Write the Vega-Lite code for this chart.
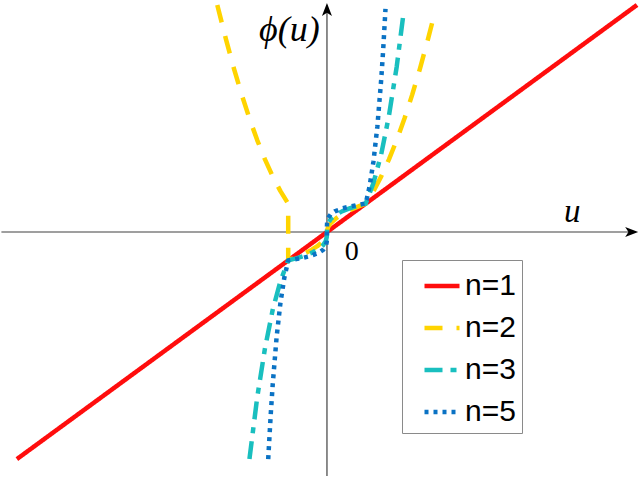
{
  "$schema": "https://vega.github.io/schema/vega-lite/v6.json",
  "width": 640,
  "height": 477,
  "autosize": {"type": "fit", "contains": "padding"},
  "padding": 0,
  "background": "white",
  "config": {"view": {"stroke": null}},
  "layer": [
    {
      "data": {"values": [{}]},
      "mark": {"type": "rule", "color": "#404040", "strokeWidth": 1.2},
      "encoding": {
        "x": {"datum": -8.4, "type": "quantitative", "scale": {"domain": [-8.333, 8.077], "nice": false, "zero": false}, "axis": null},
        "x2": {"datum": 7.9},
        "y": {"datum": 0, "type": "quantitative", "scale": {"domain": [-8.561, 8.175], "nice": false, "zero": false}, "axis": null}
      }
    },
    {
      "data": {"values": [{}]},
      "mark": {"type": "rule", "color": "#404040", "strokeWidth": 1.2},
      "encoding": {
        "x": {"datum": 0, "type": "quantitative", "scale": {"domain": [-8.333, 8.077], "nice": false, "zero": false}, "axis": null},
        "y": {"datum": -8.6, "type": "quantitative", "scale": {"domain": [-8.561, 8.175], "nice": false, "zero": false}, "axis": null},
        "y2": {"datum": 7.95}
      }
    },
    {
      "data": {"values": [
        {"n": "n=1", "i": 0, "u": -8, "phi": -8},
        {"n": "n=1", "i": 1, "u": 8, "phi": 8},

        {"n": "n=2", "i": 0, "u": -2.83, "phi": 8.0},
        {"n": "n=2", "i": 1, "u": -2.6, "phi": 6.76},
        {"n": "n=2", "i": 2, "u": -2.4, "phi": 5.76},
        {"n": "n=2", "i": 3, "u": -2.2, "phi": 4.84},
        {"n": "n=2", "i": 4, "u": -2.0, "phi": 4.0},
        {"n": "n=2", "i": 5, "u": -1.8, "phi": 3.24},
        {"n": "n=2", "i": 6, "u": -1.6, "phi": 2.56},
        {"n": "n=2", "i": 7, "u": -1.4, "phi": 1.96},
        {"n": "n=2", "i": 8, "u": -1.2, "phi": 1.44},
        {"n": "n=2", "i": 9, "u": -1.0, "phi": 1.0},
        {"n": "n=2", "i": 10, "u": -1.0, "phi": -1.0},
        {"n": "n=2", "i": 11, "u": -0.8, "phi": -0.894},
        {"n": "n=2", "i": 12, "u": -0.6, "phi": -0.775},
        {"n": "n=2", "i": 13, "u": -0.4, "phi": -0.632},
        {"n": "n=2", "i": 14, "u": -0.25, "phi": -0.5},
        {"n": "n=2", "i": 15, "u": -0.1, "phi": -0.316},
        {"n": "n=2", "i": 16, "u": -0.03, "phi": -0.173},
        {"n": "n=2", "i": 17, "u": -0.005, "phi": -0.071},
        {"n": "n=2", "i": 18, "u": 0, "phi": 0},
        {"n": "n=2", "i": 19, "u": 0.005, "phi": 0.071},
        {"n": "n=2", "i": 20, "u": 0.03, "phi": 0.173},
        {"n": "n=2", "i": 21, "u": 0.1, "phi": 0.316},
        {"n": "n=2", "i": 22, "u": 0.25, "phi": 0.5},
        {"n": "n=2", "i": 23, "u": 0.4, "phi": 0.632},
        {"n": "n=2", "i": 24, "u": 0.6, "phi": 0.775},
        {"n": "n=2", "i": 25, "u": 0.8, "phi": 0.894},
        {"n": "n=2", "i": 26, "u": 1.0, "phi": 1.0},
        {"n": "n=2", "i": 27, "u": 1.2, "phi": 1.44},
        {"n": "n=2", "i": 28, "u": 1.4, "phi": 1.96},
        {"n": "n=2", "i": 29, "u": 1.6, "phi": 2.56},
        {"n": "n=2", "i": 30, "u": 1.8, "phi": 3.24},
        {"n": "n=2", "i": 31, "u": 2.0, "phi": 4.0},
        {"n": "n=2", "i": 32, "u": 2.2, "phi": 4.84},
        {"n": "n=2", "i": 33, "u": 2.4, "phi": 5.76},
        {"n": "n=2", "i": 34, "u": 2.6, "phi": 6.76},
        {"n": "n=2", "i": 35, "u": 2.75, "phi": 7.56},

        {"n": "n=3", "i": 0, "u": -2.0, "phi": -8.0},
        {"n": "n=3", "i": 1, "u": -1.8, "phi": -5.83},
        {"n": "n=3", "i": 2, "u": -1.6, "phi": -4.1},
        {"n": "n=3", "i": 3, "u": -1.4, "phi": -2.74},
        {"n": "n=3", "i": 4, "u": -1.2, "phi": -1.73},
        {"n": "n=3", "i": 5, "u": -1.0, "phi": -1.0},
        {"n": "n=3", "i": 6, "u": -0.8, "phi": -0.928},
        {"n": "n=3", "i": 7, "u": -0.6, "phi": -0.843},
        {"n": "n=3", "i": 8, "u": -0.4, "phi": -0.737},
        {"n": "n=3", "i": 9, "u": -0.2, "phi": -0.585},
        {"n": "n=3", "i": 10, "u": -0.1, "phi": -0.464},
        {"n": "n=3", "i": 11, "u": -0.03, "phi": -0.311},
        {"n": "n=3", "i": 12, "u": -0.005, "phi": -0.171},
        {"n": "n=3", "i": 13, "u": 0, "phi": 0},
        {"n": "n=3", "i": 14, "u": 0.005, "phi": 0.171},
        {"n": "n=3", "i": 15, "u": 0.03, "phi": 0.311},
        {"n": "n=3", "i": 16, "u": 0.1, "phi": 0.464},
        {"n": "n=3", "i": 17, "u": 0.2, "phi": 0.585},
        {"n": "n=3", "i": 18, "u": 0.4, "phi": 0.737},
        {"n": "n=3", "i": 19, "u": 0.6, "phi": 0.843},
        {"n": "n=3", "i": 20, "u": 0.8, "phi": 0.928},
        {"n": "n=3", "i": 21, "u": 1.0, "phi": 1.0},
        {"n": "n=3", "i": 22, "u": 1.2, "phi": 1.73},
        {"n": "n=3", "i": 23, "u": 1.4, "phi": 2.74},
        {"n": "n=3", "i": 24, "u": 1.6, "phi": 4.1},
        {"n": "n=3", "i": 25, "u": 1.8, "phi": 5.83},
        {"n": "n=3", "i": 26, "u": 1.97, "phi": 7.65},

        {"n": "n=5", "i": 0, "u": -1.516, "phi": -8.0},
        {"n": "n=5", "i": 1, "u": -1.45, "phi": -6.41},
        {"n": "n=5", "i": 2, "u": -1.4, "phi": -5.38},
        {"n": "n=5", "i": 3, "u": -1.3, "phi": -3.71},
        {"n": "n=5", "i": 4, "u": -1.2, "phi": -2.49},
        {"n": "n=5", "i": 5, "u": -1.1, "phi": -1.61},
        {"n": "n=5", "i": 6, "u": -1.0, "phi": -1.0},
        {"n": "n=5", "i": 7, "u": -0.8, "phi": -0.956},
        {"n": "n=5", "i": 8, "u": -0.6, "phi": -0.903},
        {"n": "n=5", "i": 9, "u": -0.4, "phi": -0.833},
        {"n": "n=5", "i": 10, "u": -0.2, "phi": -0.725},
        {"n": "n=5", "i": 11, "u": -0.1, "phi": -0.631},
        {"n": "n=5", "i": 12, "u": -0.03, "phi": -0.496},
        {"n": "n=5", "i": 13, "u": -0.005, "phi": -0.347},
        {"n": "n=5", "i": 14, "u": -0.0005, "phi": -0.218},
        {"n": "n=5", "i": 15, "u": 0, "phi": 0},
        {"n": "n=5", "i": 16, "u": 0.0005, "phi": 0.218},
        {"n": "n=5", "i": 17, "u": 0.005, "phi": 0.347},
        {"n": "n=5", "i": 18, "u": 0.03, "phi": 0.496},
        {"n": "n=5", "i": 19, "u": 0.1, "phi": 0.631},
        {"n": "n=5", "i": 20, "u": 0.2, "phi": 0.725},
        {"n": "n=5", "i": 21, "u": 0.4, "phi": 0.833},
        {"n": "n=5", "i": 22, "u": 0.6, "phi": 0.903},
        {"n": "n=5", "i": 23, "u": 0.8, "phi": 0.956},
        {"n": "n=5", "i": 24, "u": 1.0, "phi": 1.0},
        {"n": "n=5", "i": 25, "u": 1.1, "phi": 1.61},
        {"n": "n=5", "i": 26, "u": 1.2, "phi": 2.49},
        {"n": "n=5", "i": 27, "u": 1.3, "phi": 3.71},
        {"n": "n=5", "i": 28, "u": 1.4, "phi": 5.38},
        {"n": "n=5", "i": 29, "u": 1.45, "phi": 6.41},
        {"n": "n=5", "i": 30, "u": 1.51, "phi": 7.86}
      ]},
      "mark": {"type": "line", "strokeWidth": 4.5, "strokeCap": "butt", "strokeJoin": "round", "clip": true},
      "encoding": {
        "x": {"field": "u", "type": "quantitative", "scale": {"domain": [-8.333, 8.077], "nice": false, "zero": false}, "axis": null},
        "y": {"field": "phi", "type": "quantitative", "scale": {"domain": [-8.561, 8.175], "nice": false, "zero": false}, "axis": null},
        "order": {"field": "i", "type": "quantitative"},
        "color": {
          "field": "n", "type": "nominal",
          "scale": {"domain": ["n=1", "n=2", "n=3", "n=5"], "range": ["#FF0D0D", "#FFD400", "#19BFBF", "#0A72C4"]},
          "legend": {
            "title": null,
            "orient": "none",
            "legendX": 398,
            "legendY": 260,
            "padding": 6,
            "fillColor": "white",
            "strokeColor": "#8a8a8a",
            "symbolType": "stroke",
            "symbolSize": 1225,
            "symbolStrokeWidth": 4.5,
            "symbolOffset": 14,
            "labelOffset": 3,
            "labelFont": "Liberation Sans",
            "labelFontSize": 30,
            "labelColor": "black",
            "rowPadding": 7,
            "labelExpr": "datum.label + '\u00a0\u00a0\u00a0'"
          }
        },
        "strokeDash": {
          "field": "n", "type": "nominal",
          "scale": {"domain": ["n=1", "n=2", "n=3", "n=5"], "range": [[1, 0], [18, 14], [18, 8, 6, 8], [4, 5]]}
        }
      }
    },
    {
      "data": {"values": [{}]},
      "mark": {"type": "point", "filled": true, "color": "black", "opacity": 1, "size": 169, "shape": "M0,0L-2,-0.77L-1.5,0L-2,0.77Z", "strokeWidth": 0},
      "encoding": {
        "x": {"datum": 8.03, "type": "quantitative", "scale": {"domain": [-8.333, 8.077], "nice": false, "zero": false}, "axis": null},
        "y": {"datum": 0, "type": "quantitative", "scale": {"domain": [-8.561, 8.175], "nice": false, "zero": false}, "axis": null}
      }
    },
    {
      "data": {"values": [{}]},
      "mark": {"type": "point", "filled": true, "color": "black", "opacity": 1, "size": 169, "shape": "M0,0L-0.77,2L0,1.5L0.77,2Z", "strokeWidth": 0},
      "encoding": {
        "x": {"datum": 0, "type": "quantitative", "scale": {"domain": [-8.333, 8.077], "nice": false, "zero": false}, "axis": null},
        "y": {"datum": 8.07, "type": "quantitative", "scale": {"domain": [-8.561, 8.175], "nice": false, "zero": false}, "axis": null}
      }
    },
    {
      "data": {"values": [{}]},
      "mark": {"type": "text", "font": "Liberation Serif", "fontStyle": "italic", "fontSize": 36, "align": "center", "baseline": "middle", "color": "black"},
      "encoding": {
        "x": {"datum": -0.97, "type": "quantitative", "scale": {"domain": [-8.333, 8.077], "nice": false, "zero": false}, "axis": null},
        "y": {"datum": 7.12, "type": "quantitative", "scale": {"domain": [-8.561, 8.175], "nice": false, "zero": false}, "axis": null},
        "text": {"value": "ϕ(u)"}
      }
    },
    {
      "data": {"values": [{}]},
      "mark": {"type": "text", "font": "Liberation Serif", "fontStyle": "italic", "fontSize": 33, "align": "center", "baseline": "middle", "color": "black"},
      "encoding": {
        "x": {"datum": 6.33, "type": "quantitative", "scale": {"domain": [-8.333, 8.077], "nice": false, "zero": false}, "axis": null},
        "y": {"datum": 0.7, "type": "quantitative", "scale": {"domain": [-8.561, 8.175], "nice": false, "zero": false}, "axis": null},
        "text": {"value": "u"}
      }
    },
    {
      "data": {"values": [{}]},
      "mark": {"type": "text", "font": "Liberation Serif", "fontSize": 28, "align": "center", "baseline": "middle", "color": "black"},
      "encoding": {
        "x": {"datum": 0.64, "type": "quantitative", "scale": {"domain": [-8.333, 8.077], "nice": false, "zero": false}, "axis": null},
        "y": {"datum": -0.7, "type": "quantitative", "scale": {"domain": [-8.561, 8.175], "nice": false, "zero": false}, "axis": null},
        "text": {"value": "0"}
      }
    }
  ]
}
